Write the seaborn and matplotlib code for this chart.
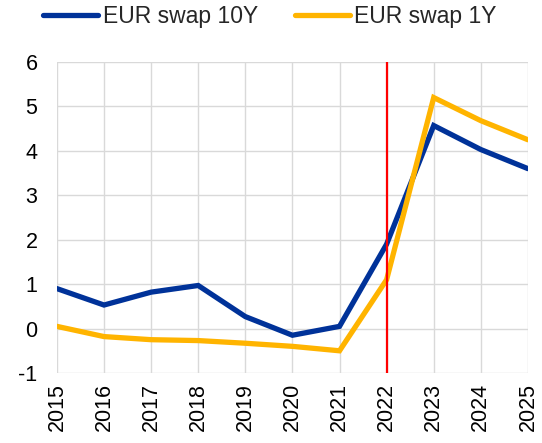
import matplotlib
matplotlib.use("Agg")
import matplotlib.pyplot as plt
import seaborn as sns
import pandas as pd

years = [2015, 2016, 2017, 2018, 2019, 2020, 2021, 2022, 2023, 2024, 2025]
swap_10y = [0.90, 0.53, 0.82, 0.97, 0.27, -0.15, 0.05, 1.90, 4.57, 4.03, 3.60]
swap_1y = [0.05, -0.18, -0.25, -0.27, -0.33, -0.40, -0.50, 1.10, 5.20, 4.68, 4.25]
series_names = ["EUR swap 10Y", "EUR swap 1Y"]
yticks = [-1, 0, 1, 2, 3, 4, 5, 6]
marker_year = 2022

df = pd.concat([
    pd.DataFrame({"year": years, "value": swap_10y, "series": series_names[0]}),
    pd.DataFrame({"year": years, "value": swap_1y, "series": series_names[1]}),
])

sns.set_style("white")
plt.rcParams["font.family"] = ["Liberation Sans", "DejaVu Sans"]

fig = plt.figure(figsize=(5.42, 4.43), dpi=100)
ax = fig.add_axes([0.105, 0.158, 0.869, 0.702])

sns.lineplot(data=df, x="year", y="value", hue="series",
             palette={series_names[0]: "#003299", series_names[1]: "#FFB400"},
             linewidth=3.8, ax=ax, legend=True)
for l in ax.lines:
    l.set_solid_capstyle("round")
    l.set_solid_joinstyle("miter")

ax.axvline(marker_year, color="#FF0000", linewidth=1.6, zorder=5)

ax.set_xlim(years[0], years[-1])
ax.set_ylim(-1, 6)
ax.set_xticks(years)
ax.set_xticklabels([str(y) for y in years], rotation=90)
ax.set_yticks(yticks)
ax.set_yticklabels([str(t) for t in yticks])
ax.tick_params(axis="x", labelsize=15.5, length=0, pad=7, colors="#000000")
ax.tick_params(axis="y", labelsize=15.5, length=0, pad=14, colors="#000000")
ax.set_xlabel("")
ax.set_ylabel("")
ax.grid(True, color="#D9D9D9", linewidth=1)
ax.set_axisbelow(True)
for s in ax.spines.values():
    s.set_visible(False)

leg = ax.legend(loc="center", bbox_to_anchor=(0.452, 1.145), ncol=2,
                frameon=False, fontsize=16.5, handlelength=2.4, handletextpad=0.2,
                columnspacing=1.6, borderaxespad=0)
for h in leg.get_lines():
    h.set_linewidth(3.8)

fig.savefig("out.png", dpi=100)
